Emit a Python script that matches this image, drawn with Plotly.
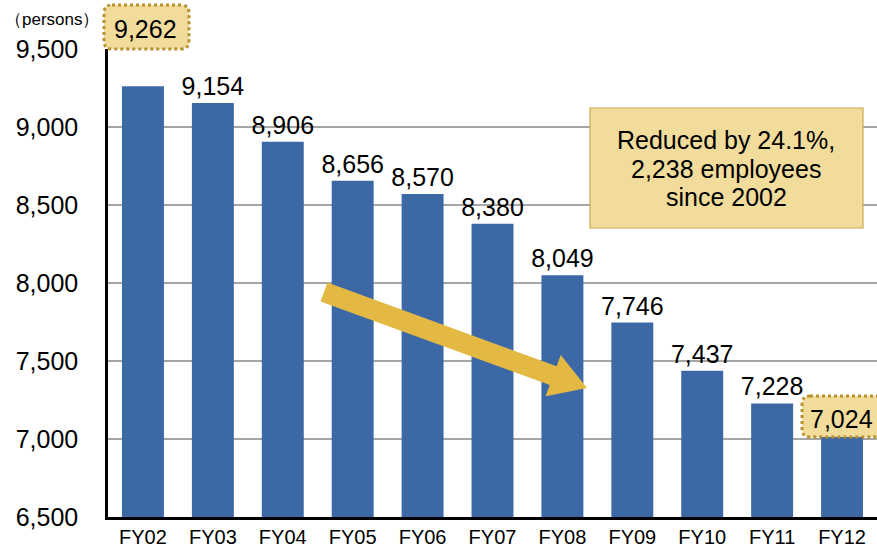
import plotly.graph_objects as go
import math

categories = ["FY02", "FY03", "FY04", "FY05", "FY06", "FY07", "FY08", "FY09", "FY10", "FY11", "FY12"]
employees = [9262, 9154, 8906, 8656, 8570, 8380, 8049, 7746, 7437, 7228, 7024]
y_ticks = [6500, 7000, 7500, 8000, 8500, 9000, 9500]
unit_label = "（persons）"
note_lines = ["Reduced by 24.1%,", "2,238 employees", "since 2002"]

W, H = 877, 548
L, R, T, B = 108, 0, 49, 31
PW, PH = W - L - R, H - T - B

def px(x):
    return (x - L) / PW

def py(y):
    return (H - B - y) / PH

FONT = "Liberation Sans, Arial, sans-serif"
BAR = "#3D68A6"
GOLD = "#E3B944"
BOXFILL = "#F2DC9B"

labels = [""] + [f"{v:,}" for v in employees[1:-1]] + [""]

fig = go.Figure()
fig.add_trace(go.Bar(
    x=categories, y=employees, width=0.6,
    marker=dict(color=BAR, line=dict(width=0)),
    text=labels, textposition="outside", cliponaxis=False, constraintext="none",
    textfont=dict(family=FONT, size=25, color="black"),
    hoverinfo="skip",
))

def rounded_rect(x0, y0, x1, y1, r):
    p = f"M {px(x0 + r)} {py(y0)} L {px(x1 - r)} {py(y0)} "
    p += f"Q {px(x1)} {py(y0)} {px(x1)} {py(y0 + r)} L {px(x1)} {py(y1 - r)} "
    p += f"Q {px(x1)} {py(y1)} {px(x1 - r)} {py(y1)} L {px(x0 + r)} {py(y1)} "
    p += f"Q {px(x0)} {py(y1)} {px(x0)} {py(y1 - r)} L {px(x0)} {py(y0 + r)} "
    p += f"Q {px(x0)} {py(y0)} {px(x0 + r)} {py(y0)} Z"
    return p

shapes = []
for (x0, y0, x1, y1) in [(104, 5, 189, 49), (802, 396, 892, 437)]:
    shapes.append(dict(type="path", xref="paper", yref="paper",
                       path=rounded_rect(x0, y0, x1, y1, 8),
                       fillcolor=BOXFILL, line=dict(color="#B8902E", width=3, dash="dot"),
                       layer="above"))

shapes.append(dict(type="rect", xref="paper", yref="paper",
                   x0=px(590), x1=px(863), y0=py(228), y1=py(108),
                   fillcolor=BOXFILL, line=dict(color="#C9A850", width=1.2), layer="above"))

tx, ty = 324, 292
tipx, tipy = 587, 388
dx, dy = tipx - tx, tipy - ty
ln = math.hypot(dx, dy)
ux, uy = dx / ln, dy / ln
nx, ny = -uy, ux
hw, headw, headl = 10, 22, 36
bx, by = tipx - headl * ux, tipy - headl * uy
poly = [
    (tx - hw * nx, ty - hw * ny),
    (bx - hw * nx, by - hw * ny),
    (bx - headw * nx, by - headw * ny),
    (tipx, tipy),
    (bx + headw * nx, by + headw * ny),
    (bx + hw * nx, by + hw * ny),
    (tx + hw * nx, ty + hw * ny),
]
path = "M " + " L ".join(f"{px(a)} {py(b)}" for a, b in poly) + " Z"
shapes.append(dict(type="path", xref="paper", yref="paper", path=path,
                   fillcolor=GOLD, line=dict(width=0), layer="above"))

def ann(x, y, text, size, xanchor="center"):
    return dict(xref="paper", yref="paper", x=px(x), y=py(y), text=text,
                xanchor=xanchor, yanchor="middle", showarrow=False,
                font=dict(family=FONT, size=size, color="black"))

annotations = [
    ann(145, 29, f"{employees[0]:,}", 25),
    ann(841, 419, f"{employees[-1]:,}", 25),
    ann(3, 19, unit_label, 17, xanchor="left"),
]
for i, line in enumerate(note_lines):
    annotations.append(ann(726, 140 + 28.5 * i, line, 25))

fig.update_layout(
    width=W, height=H, margin=dict(l=L, r=R, t=T, b=B, autoexpand=False),
    paper_bgcolor="white", plot_bgcolor="white",
    showlegend=False, bargap=0.4,
    shapes=shapes, annotations=annotations,
    font=dict(family=FONT, color="black"),
)
fig.update_xaxes(showline=True, linecolor="black", linewidth=2.5, showgrid=False, automargin=False,
                 tickfont=dict(family=FONT, size=20, color="black"), ticks="", ticklabelstandoff=0)
fig.update_yaxes(range=[6500, 9500], tickvals=y_ticks, tickformat=",", automargin=False,
                 showgrid=True, gridcolor="#A6A6A6", gridwidth=2,
                 showline=True, linecolor="black", linewidth=2.5, zeroline=False,
                 ticks="", ticklabelstandoff=22,
                 tickfont=dict(family=FONT, size=25, color="black"))

fig.write_html("out.html", config={"displayModeBar": False},
               post_script="document.body.style.margin='0';document.body.style.overflow='hidden';")
